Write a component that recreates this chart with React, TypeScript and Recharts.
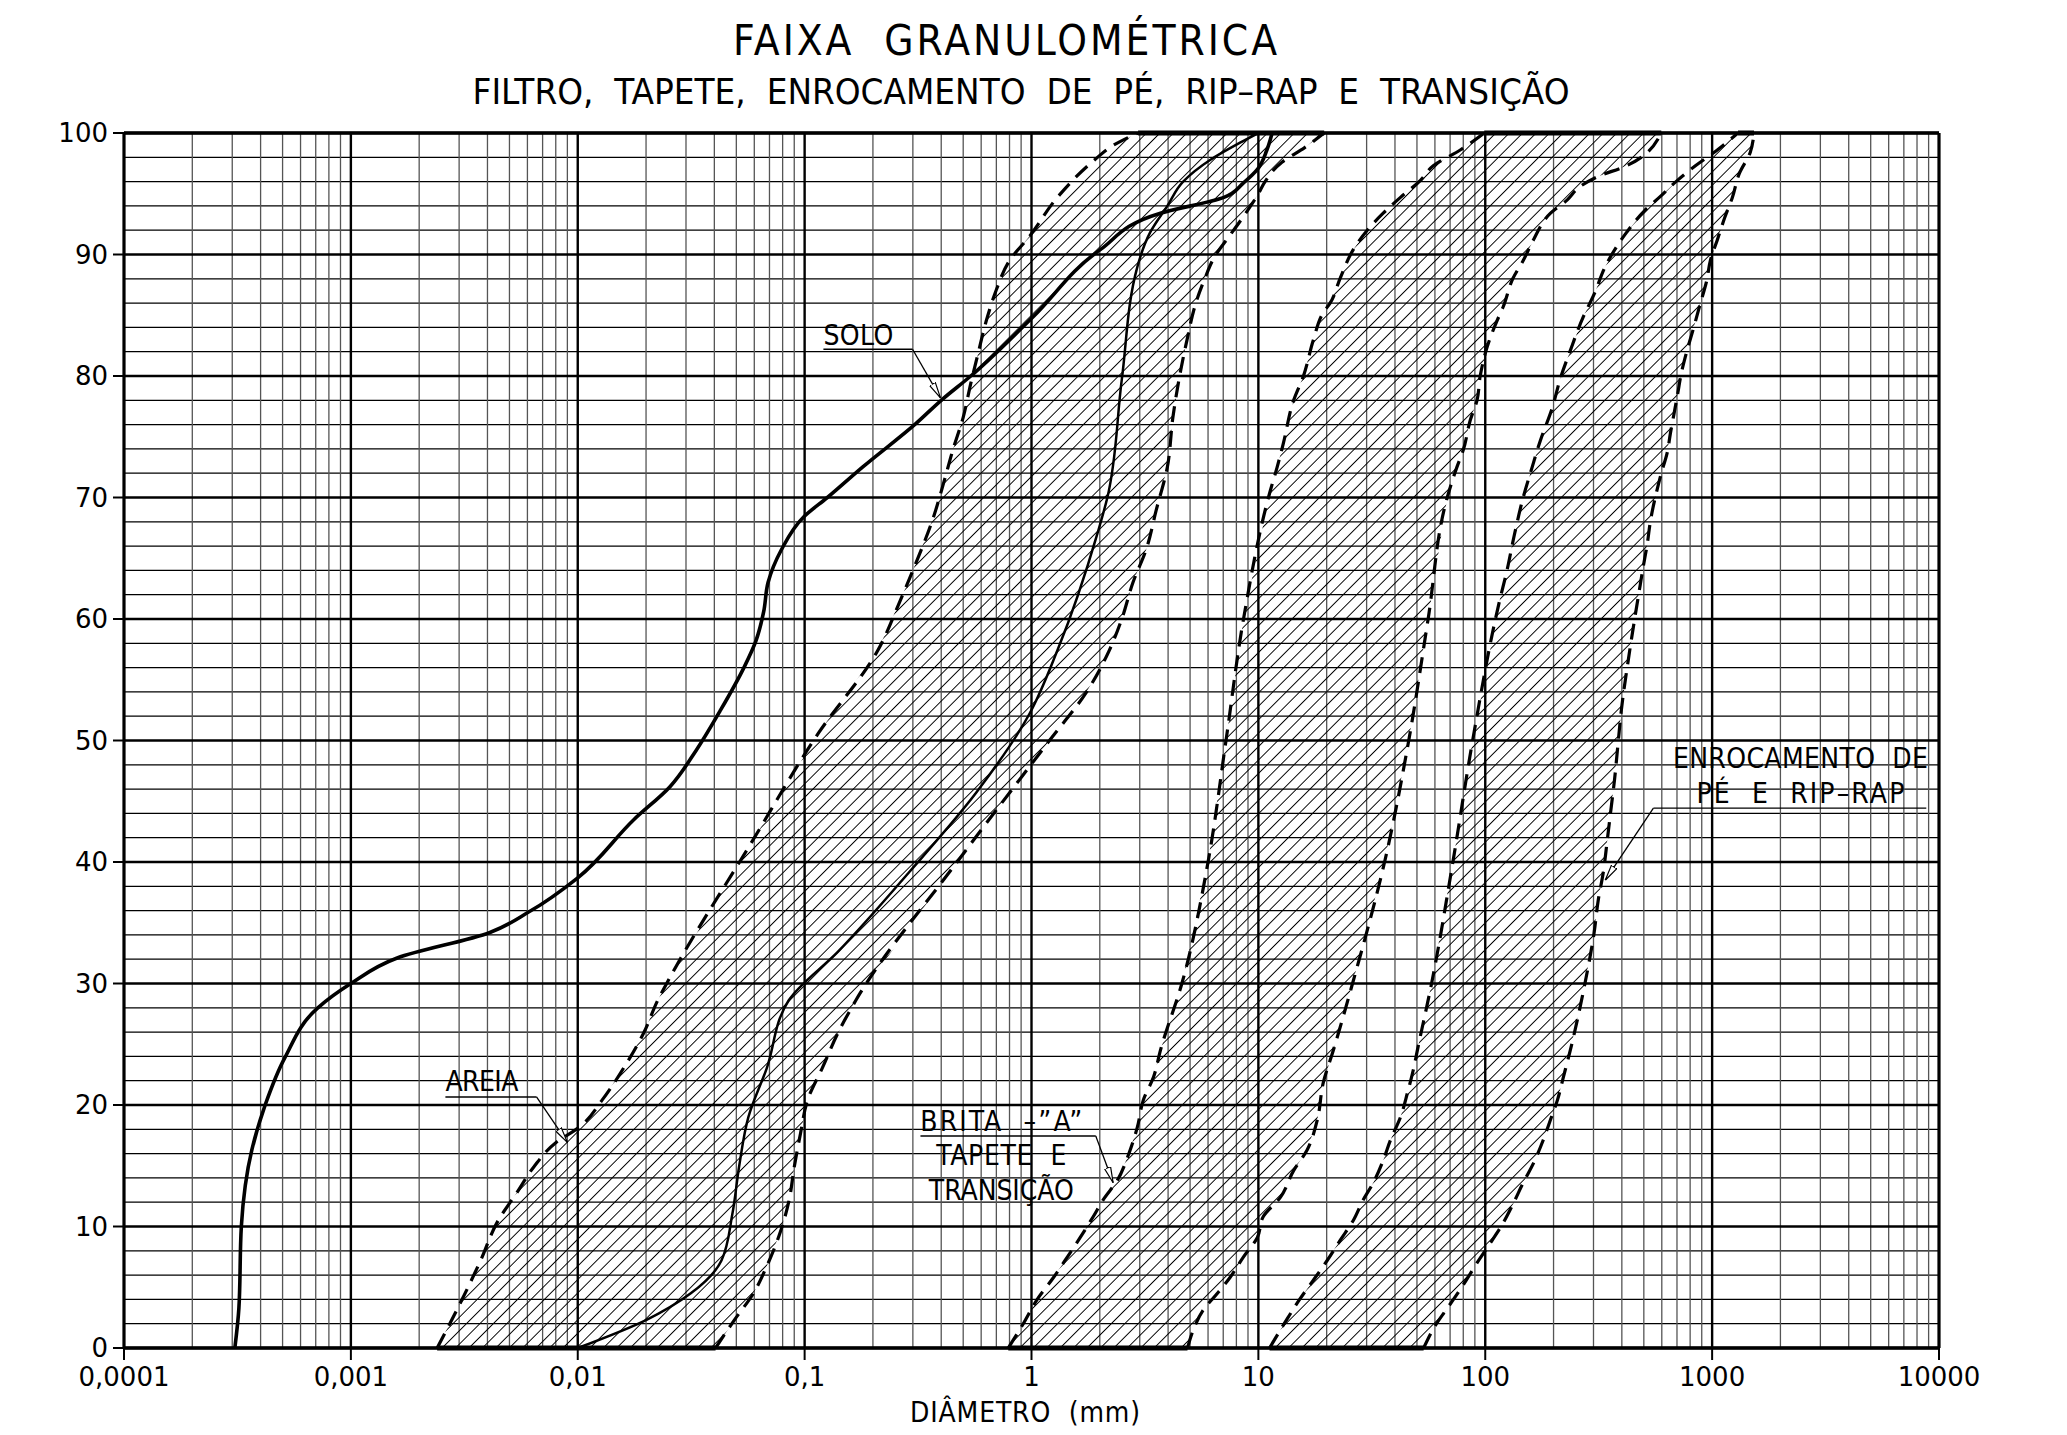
import React from "react";
import {
  ComposedChart,
  XAxis,
  YAxis,
  CartesianGrid,
  Line,
  Scatter,
  ReferenceLine,
  ReferenceDot,
} from "recharts";

type Pt = [number, number]; // [diameter mm, % passing]

// axis ticks
const X_DECADES = [0.0001, 0.001, 0.01, 0.1, 1, 10, 100, 1000, 10000];
const X_LABELS = ["0,0001", "0,001", "0,01", "0,1", "1", "10", "100", "1000", "10000"];
const X_MINOR = X_DECADES.slice(0, -1).flatMap((d) => [2, 3, 4, 5, 6, 7, 8, 9].map((k) => k * d));
const Y_TICKS = [0, 10, 20, 30, 40, 50, 60, 70, 80, 90, 100];
const Y_MINOR = Array.from({ length: 51 }, (_, i) => i * 2);

// soil sample curve (SOLO)
const SOLO: Pt[] = [
  [0.000308, 0], [0.000321, 3.3], [0.000329, 10], [0.000366, 16.3], [0.000419, 20],
  [0.000512, 23.9], [0.000715, 28], [0.001, 30], [0.0016, 32.1], [0.0041, 34.2],
  [0.0061, 35.9], [0.01, 38.7], [0.0177, 43.5], [0.0255, 46.2], [0.0333, 49.2],
  [0.0423, 52.4], [0.054, 56], [0.061, 58.2], [0.066, 60.6], [0.069, 63],
  [0.079, 65.7], [0.099, 68.4], [0.126, 70], [0.18, 72.5], [0.31, 76.1],
  [0.4, 78], [0.54, 80], [1.02, 84.9], [2.01, 90.4], [3.7, 93.4],
  [7.05, 94.7], [8.6, 95.9], [9.9, 97], [10.9, 98.6], [11.5, 100],
];

// second (unlabelled) curve
const AMOSTRA: Pt[] = [
  [0.01, 0], [0.02, 2.3], [0.0315, 4.5], [0.043, 7.2], [0.048, 11],
  [0.0515, 15], [0.0565, 19], [0.068, 23], [0.085, 28.6], [0.14, 32.6],
  [0.29, 39.2], [0.57, 45.7], [0.98, 52.2], [1.3, 57.4], [1.95, 67],
  [2.16, 70], [2.5, 79.7], [2.93, 89], [3.33, 91.8], [3.97, 94],
  [4.66, 96], [6.15, 97.8], [8.3, 99.2], [10, 100],
];

// AREIA band
const AREIA_FINE: Pt[] = [
  [0.0024, 0], [0.003, 3.5], [0.00373, 7.2], [0.00446, 10.5], [0.0054, 12.8],
  [0.0064, 14.9], [0.008, 16.9], [0.0102, 18.2], [0.0128, 20.4], [0.016, 23.1],
  [0.0195, 25.9], [0.0225, 28.6], [0.0255, 30.5], [0.057, 41.3], [0.115, 50.6],
  [0.21, 57.4], [0.265, 61.6], [0.3, 64], [0.37, 68.4], [0.41, 71.2],
  [0.45, 73.9], [0.5, 76.6], [0.54, 79.4], [0.577, 81.6], [0.64, 84.9],
  [0.7, 87.1], [0.8, 89.5], [0.98, 91.5], [1.3, 94.7], [1.9, 97.8],
  [2.3, 99], [2.95, 100],
];
const AREIA_COARSE: Pt[] = [
  [0.0405, 0], [0.049, 2.3], [0.0595, 4.5], [0.068, 6.7], [0.078, 9.5],
  [0.0855, 12.2], [0.09, 14.9], [0.096, 17.7], [0.103, 20.4], [0.12, 23.1],
  [0.14, 25.9], [0.168, 28.6], [0.47, 40], [1.2, 50], [1.75, 54],
  [2.2, 57.4], [2.5, 60], [2.8, 63], [3.2, 65.7], [3.55, 69],
  [3.97, 72.5], [4.2, 76.6], [4.55, 80.5], [4.85, 83], [5.3, 86],
  [5.8, 88], [6.5, 90], [7.3, 91.3], [8.5, 93], [10, 95],
  [10.7, 96], [12.7, 97.6], [16, 98.8], [19.5, 100],
];

// BRITA "A" (tapete e transicao) band
const BRITA_FINE: Pt[] = [
  [0.79, 0], [0.92, 2], [1.06, 4], [1.25, 5.8], [1.44, 7.5],
  [1.64, 9.1], [1.87, 10.8], [2.07, 12.2], [2.39, 13.8], [2.65, 15.7],
  [2.93, 18.2], [3.11, 20.4], [3.45, 22.3], [3.7, 24.5], [4.6, 30],
  [6, 40], [7.2, 50], [8.6, 60], [11.3, 70.6], [12.1, 72.5],
  [12.9, 74.5], [14.3, 78], [15.8, 80], [17.5, 83], [19.3, 85.2],
  [20.7, 86], [23, 88.1], [26.2, 90.4], [30.2, 92], [35.5, 93.4],
  [42.3, 94.7], [51.8, 96.1], [59, 97.3], [77.6, 98.6], [99, 100],
];
const BRITA_COARSE: Pt[] = [
  [4.87, 0], [5.17, 1.5], [5.7, 3.1], [6.6, 4.5], [7.5, 5.8],
  [8.6, 7.5], [9.9, 9.1], [10.5, 10.8], [12.5, 12.4], [14.3, 14.6],
  [16.4, 16.3], [18.2, 18.8], [19.3, 21.8], [21.4, 24.5], [26, 30],
  [36, 40], [46, 50], [56, 60], [68, 70], [75, 72.5],
  [80, 73.9], [86, 76.4], [92, 78], [95, 80], [102, 82.4],
  [113, 84.6], [120, 85.7], [133, 88.1], [147, 89.5], [163, 91.2],
  [194, 93.4], [230, 94.5], [262, 95.6], [312, 96.4], [419, 97.3],
  [597, 100],
];

// ENROCAMENTO DE PE E RIP-RAP band
const ENROC_FINE: Pt[] = [
  [11.2, 0], [13.5, 2.5], [15.2, 4], [17.5, 5.6], [20.1, 7.2],
  [23, 8.9], [26.2, 10.5], [29, 12.2], [32.1, 13.6], [35.6, 15.5],
  [38.2, 17.1], [42.3, 19], [45.4, 21], [48.2, 22.9], [50.2, 24.5],
  [58, 30], [72, 40], [88, 50], [116, 61.6], [124, 63.8],
  [135, 67.1], [146, 69.8], [161, 72.5], [175, 74.7], [196, 77.2],
  [216, 80], [235, 81.9], [271, 84.9], [303, 86.8], [338, 89],
  [378, 90.6], [419, 91.8], [503, 93.6], [585, 94.7], [703, 96.1],
  [844, 97.3], [1054, 98.6], [1300, 100],
];
const ENROC_COARSE: Pt[] = [
  [53.5, 0], [60, 1.8], [70, 3.6], [80, 5.2], [92, 7],
  [105, 8.6], [120, 10.3], [133, 11.9], [147, 13.6], [163, 15.2],
  [180, 17.1], [194, 18.8], [208, 20.4], [221, 22.3], [237, 24.5],
  [275, 30], [302, 34.2], [315, 36.9], [331, 39.1], [345, 41.8],
  [358, 44.3], [371, 46.7], [386, 50], [398, 52.5], [430, 57],
  [480, 62.6], [497, 64.3], [518, 66.2], [535, 68.1], [568, 70.4],
  [597, 72], [634, 73.7], [655, 75.3], [681, 77], [706, 78.6],
  [731, 80.2], [770, 81.9], [830, 84], [879, 85.7], [948, 87.9],
  [982, 89.5], [1054, 91.2], [1140, 93.1], [1228, 94.7], [1320, 96.7],
  [1472, 98.4], [1530, 100],
];

const BANDS = [
  { id: "areia", fine: AREIA_FINE, coarse: AREIA_COARSE },
  { id: "brita", fine: BRITA_FINE, coarse: BRITA_COARSE },
  { id: "enroc", fine: ENROC_FINE, coarse: ENROC_COARSE },
];

// annotations, in data units
const LABELS = [
  { id: "solo", lines: [{ text: "SOLO", x: 0.121, y: 82.55, w: 70 }], anchor: "start",
    under: [[0.121, 82.2], [0.299, 82.2]] as Pt[], tip: [0.397, 78.2] as Pt, fromEnd: true },
  { id: "areia", lines: [{ text: "AREIA", x: 0.00261, y: 21.15, w: 73 }], anchor: "start",
    under: [[0.00261, 20.66], [0.00658, 20.66]] as Pt[], tip: [0.00902, 16.9] as Pt, fromEnd: true },
  { id: "brita", anchor: "middle",
    lines: [
      { text: "BRITA  \u2013\u201DA\u201D", x: 0.736, y: 17.9, w: 162 },
      { text: "TAPETE  E", x: 0.736, y: 15.06, w: 130 },
      { text: "TRANSIÇÃO", x: 0.736, y: 12.2, w: 145 },
    ],
    under: [[0.324, 17.45], [1.92, 17.45]] as Pt[], tip: [2.29, 13.6] as Pt, fromEnd: true },
  { id: "enroc", anchor: "middle",
    lines: [
      { text: "ENROCAMENTO  DE", x: 2449, y: 47.7, w: 255 },
      { text: "PÉ  E  RIP\u2013RAP", x: 2449, y: 44.86, w: 208 },
    ],
    under: [[551, 44.44], [8790, 44.44]] as Pt[], tip: [338, 38.5] as Pt, fromEnd: false },
];

const W = 2051;
const H = 1418;
const CAD_FONT = '"Liberation Sans Narrow", "DejaVu Sans Condensed", "Liberation Sans", sans-serif';
const NUM_FONT = '"DejaVu Sans", Verdana, sans-serif';

const rows = (pts: Pt[]) => pts.map(([x, y]) => ({ x, y }));
const noShape = () => <g />;

const xLabel = (v: number) => {
  const i = X_DECADES.findIndex((d) => Math.abs(Math.log10(d) - Math.log10(v)) < 1e-6);
  return i >= 0 ? X_LABELS[i] : "";
};

const cadText = (text: string, w: number, anchor: string, size = 28) => (p: any) => (
  <text
    x={p.cx}
    y={p.cy}
    textAnchor={anchor}
    textLength={w}
    lengthAdjust="spacing"
    fontFamily={CAD_FONT}
    fontSize={size}
    fill="#000"
    style={{ whiteSpace: "pre" }}
  >
    {text}
  </text>
);

const arrowLine = (p: any) => (
  <line x1={p.x1} y1={p.y1} x2={p.x2} y2={p.y2} stroke="#000" strokeWidth={1.3} markerEnd="url(#leader-arrow)" />
);

export default function App() {
  return (
    <div style={{ position: "relative", width: W, height: H }}>
      <ComposedChart width={W} height={H} margin={{ top: 125, right: 120, bottom: 20, left: 0 }}>
        <defs>
          <pattern id="hatch" patternUnits="userSpaceOnUse" width={9.5} height={9.5} patternTransform="rotate(45)">
            <line x1={0} y1={-1} x2={0} y2={10.5} stroke="#000" strokeWidth={1.9} />
          </pattern>
          <marker
            id="leader-arrow"
            viewBox="0 0 16 8"
            refX={16}
            refY={4}
            markerWidth={16}
            markerHeight={8}
            markerUnits="userSpaceOnUse"
            orient="auto"
          >
            <path d="M0,0.8 L16,4 L0,7.2 Z" fill="#fff" stroke="#000" strokeWidth={1.2} />
          </marker>
        </defs>

        <XAxis
          dataKey="x"
          type="number"
          scale="log"
          domain={[0.0001, 10000]}
          allowDataOverflow
          ticks={X_DECADES}
          interval={0}
          tickFormatter={xLabel}
          axisLine={false}
          tickLine={{ stroke: "#000", strokeWidth: 2 }}
          tickSize={12}
          tickMargin={8}
          height={58}
          tick={{ fontFamily: NUM_FONT, fontSize: 26, fill: "#000" }}
        />
        <XAxis
          xAxisId="minor"
          hide
          dataKey="x"
          type="number"
          scale="log"
          domain={[0.0001, 10000]}
          allowDataOverflow
          ticks={X_MINOR}
          interval={0}
        />
        <YAxis
          dataKey="y"
          type="number"
          domain={[0, 100]}
          allowDataOverflow
          ticks={Y_TICKS}
          interval={0}
          width={116}
          axisLine={false}
          tickLine={{ stroke: "#000", strokeWidth: 2 }}
          tickSize={11}
          tickMargin={5}
          tick={{ fontFamily: NUM_FONT, fontSize: 26, fill: "#000" }}
        />
        <YAxis
          yAxisId="minor"
          hide
          dataKey="y"
          type="number"
          domain={[0, 100]}
          allowDataOverflow
          ticks={Y_MINOR}
          interval={0}
        />

        <CartesianGrid xAxisId="minor" yAxisId="minor" vertical={false} stroke="#000" strokeWidth={1.2} />
        <CartesianGrid xAxisId="minor" yAxisId="minor" horizontal={false} stroke="#555" strokeWidth={1.3} />
        <CartesianGrid stroke="#000" strokeWidth={2.4} />

        {BANDS.map((b) => (
          <Scatter
            key={`${b.id}-fill`}
            data={rows([...b.fine, ...[...b.coarse].reverse()])}
            shape={noShape}
            line={{ fill: "url(#hatch)", stroke: "none" }}
            lineJointType="linear"
            isAnimationActive={false}
          />
        ))}

        {BANDS.flatMap((b) =>
          [b.fine, b.coarse].map((pts, i) => (
            <Line
              key={`${b.id}-edge-${i}`}
              data={rows(pts)}
              dataKey="y"
              type="monotoneY"
              stroke="#000"
              strokeWidth={3.2}
              strokeDasharray="16 9"
              dot={false}
              activeDot={false}
              isAnimationActive={false}
            />
          ))
        )}

        <Line
          data={rows(AMOSTRA)}
          dataKey="y"
          type="monotoneY"
          stroke="#000"
          strokeWidth={2.5}
          dot={false}
          activeDot={false}
          isAnimationActive={false}
        />
        <Line
          data={rows(SOLO)}
          dataKey="y"
          type="monotoneY"
          stroke="#000"
          strokeWidth={3.6}
          dot={false}
          activeDot={false}
          isAnimationActive={false}
        />

        <ReferenceLine y={0} stroke="#000" strokeWidth={3.4} />
        <ReferenceLine y={100} stroke="#000" strokeWidth={3.4} />
        <ReferenceLine x={0.0001} stroke="#000" strokeWidth={3} />
        <ReferenceLine x={10000} stroke="#000" strokeWidth={3} />

        {BANDS.flatMap((b) => [
          <ReferenceLine
            key={`${b.id}-bottom`}
            segment={[
              { x: b.fine[0][0], y: 0 },
              { x: b.coarse[0][0], y: 0 },
            ]}
            stroke="#000"
            strokeWidth={5}
          />,
          <ReferenceLine
            key={`${b.id}-top`}
            segment={[
              { x: b.fine[b.fine.length - 1][0], y: 100 },
              { x: b.coarse[b.coarse.length - 1][0], y: 100 },
            ]}
            stroke="#000"
            strokeWidth={5}
          />,
        ])}

        {LABELS.flatMap((l) => {
          const start = l.fromEnd ? l.under[1] : l.under[0];
          return [
            <ReferenceLine
              key={`${l.id}-under`}
              segment={[
                { x: l.under[0][0], y: l.under[0][1] },
                { x: l.under[1][0], y: l.under[1][1] },
              ]}
              stroke="#000"
              strokeWidth={1.3}
              ifOverflow="visible"
            />,
            <ReferenceLine
              key={`${l.id}-leader`}
              segment={[
                { x: start[0], y: start[1] },
                { x: l.tip[0], y: l.tip[1] },
              ]}
              shape={arrowLine}
              ifOverflow="visible"
            />,
            ...l.lines.map((t, i) => (
              <ReferenceDot
                key={`${l.id}-text-${i}`}
                x={t.x}
                y={t.y}
                r={0}
                ifOverflow="visible"
                shape={cadText(t.text, t.w, l.anchor)}
              />
            )),
          ];
        })}
      </ComposedChart>

      <svg
        width={W}
        height={H}
        style={{ position: "absolute", left: 0, top: 0, pointerEvents: "none", overflow: "visible" }}
      >
        <text x={997} y={47} textAnchor="middle" textLength={544} lengthAdjust="spacing" fontFamily={CAD_FONT} fontSize={42} fill="#000" style={{ whiteSpace: "pre" }}>
          FAIXA  GRANULOMÉTRICA
        </text>
        <text x={1013} y={96} textAnchor="middle" textLength={1097} lengthAdjust="spacingAndGlyphs" fontFamily={CAD_FONT} fontSize={35} fill="#000" style={{ whiteSpace: "pre" }}>
          FILTRO,  TAPETE,  ENROCAMENTO  DE  PÉ,  RIP–RAP  E  TRANSIÇÃO
        </text>
        <text x={1017} y={1414} textAnchor="middle" textLength={230} lengthAdjust="spacing" fontFamily={CAD_FONT} fontSize={28} fill="#000" style={{ whiteSpace: "pre" }}>
          DIÂMETRO  (mm)
        </text>
      </svg>
    </div>
  );
}
